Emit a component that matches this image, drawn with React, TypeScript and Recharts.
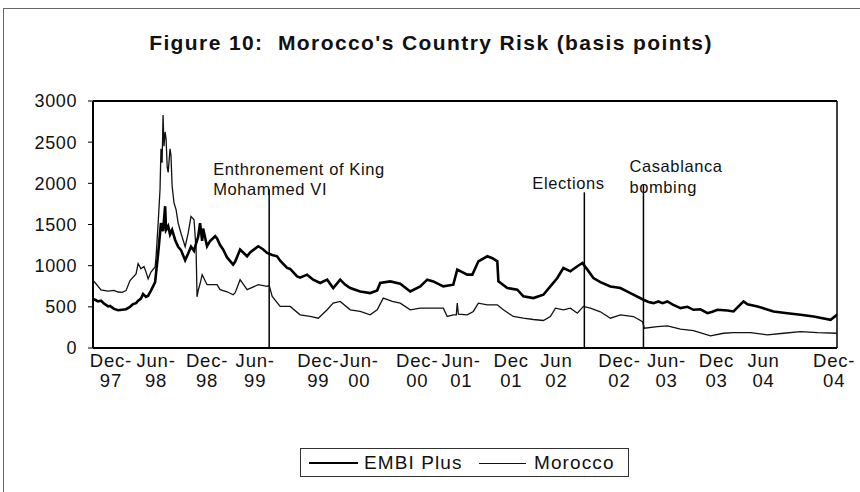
import React from 'react';
import { LineChart, Line, XAxis, YAxis, ReferenceLine } from 'recharts';

// x unit: weeks since early October 1997
const embiWeeks = [0,1.6,2.7,4.2,5.8,8.0,9.0,11.1,13.3,15.4,17.5,19.6,21.2,22.8,23.9,25.4,26.5,28.1,29.2,30.7,32.9,34.5,35.5,36.0,37.1,38.2,38.7,39.8,40.8,41.9,43.5,45.1,46.6,48.8,50.4,51.9,53.5,54.6,55.7,56.7,57.8,58.3,60.4,62.0,64.7,65.7,67.3,68.9,71.0,74.2,75.3,77.9,81.6,83.2,87.5,90.0,92.2,94.9,97.5,99.1,102.8,104.4,108.1,109.7,113.4,115.0,116.6,120.3,124.0,127.2,130.9,133.5,136.2,141.5,146.8,150.5,152.1,157.4,162.7,168.0,173.3,177.0,180.2,185.5,190.8,192.9,198.2,200.9,204.1,208.8,211.5,214.1,214.7,219.4,224.7,227.9,233.2,238.5,242.2,245.9,249.1,252.8,256.5,259.2,261.8,265.0,268.7,274.0,279.3,284.6,291.5,294.2,296.8,299.4,301.6,304.2,306.8,311.1,314.8,318.0,321.7,325.4,328.0,330.7,336.0,339.2,344.5,346.6,351.9,360.4,367.8,374.7,381.6,390.6,394];
const embiValues = [595,580,566,575,540,505,510,475,459,465,471,500,533,545,574,600,656,620,635,697,800,1150,1394,1517,1420,1722,1435,1480,1380,1435,1312,1230,1189,1066,1148,1230,1180,1271,1353,1517,1300,1450,1236,1300,1358,1330,1250,1196,1100,1013,1050,1196,1114,1160,1236,1200,1155,1130,1114,1060,972,960,870,854,891,860,830,790,830,728,830,770,728,687,667,700,789,809,780,687,749,830,809,749,769,952,891,891,1053,1114,1090,1053,809,728,708,627,606,647,749,850,972,931,993,1033,952,850,800,748,728,667,586,560,545,565,545,566,530,484,500,464,470,423,440,464,455,444,566,530,505,444,423,403,382,342,403];

const moroccoWeeks = [0,1.6,4.2,8.0,11.1,13.3,15.4,17.5,19.6,22.8,23.9,25.4,27.0,28.1,29.2,30.7,32.9,33.4,34.5,35.5,36.0,36.6,37.1,37.6,38.2,38.7,39.3,39.8,40.8,41.3,41.9,42.9,44.0,45.1,46.6,48.8,50.4,51.9,53.5,54.6,55.1,55.7,56.7,57.8,60.4,65.7,67.3,71.0,74.2,75.3,77.9,81.6,87.5,92.2,93.3,94.9,99.1,104.4,109.7,115.0,119.3,124.0,127.2,130.9,136.2,141.5,146.8,150.5,153.7,158.5,162.7,168.0,173.3,180.2,185.5,187.6,190.8,192.4,192.9,193.5,198.2,201.4,204.1,208.8,214.1,217.3,222.6,227.9,233.2,238.5,242.2,244.9,249.1,252.8,256.5,259.7,263.4,268.7,274.0,279.3,286.2,291.0,292.0,298.9,304.2,311.1,318.0,327.0,333.9,339.2,348.2,357.2,365.7,374.7,383.7,394];
const moroccoValues = [820,780,705,690,700,680,676,697,820,900,1025,963,990,922,840,922,984,1107,1517,1927,2419,2250,2830,2450,2624,2542,2200,2132,2419,2337,1968,1763,1681,1517,1394,1230,1394,1599,1558,1189,622,697,780,890,769,769,708,683,647,671,830,708,769,749,760,627,505,505,403,383,362,464,545,566,464,444,403,464,606,566,545,464,484,484,484,383,403,403,545,410,403,444,545,525,525,464,383,362,346,334,383,484,464,484,423,505,484,440,362,403,382,321,240,260,268,228,212,147,179,187,187,159,179,200,187,179];

const tickWeeks = [9.5,33.4,60.4,85.9,119.3,141.0,171.7,195.0,221.5,245.4,278.8,303.7,330.2,355.1,392.5];
const tickMonths = ['Dec-','Jun-','Dec-','Jun-','Dec-','Jun-','Dec-','Jun-','Dec','Jun','Dec-','Jun-','Dec','Jun','Dec-'];
const tickYears = ['97','98','98','99','99','00','00','01','01','02','02','03','03','04','04'];
const yTicks = [0,500,1000,1500,2000,2500,3000];

const eventWeeks = [93.3, 260.2, 291.5];
const eventTops = [1928, 1891, 1989];
const eventLabels = [['Enthronement of King', 'Mohammed VI'], ['Elections'], ['Casablanca', 'bombing']];
const seriesNames = ['EMBI Plus', 'Morocco'];

const embiData = embiWeeks.map((w, i) => ({ week: w, value: embiValues[i] }));
const moroccoData = moroccoWeeks.map((w, i) => ({ week: w, value: moroccoValues[i] }));

const FONT = '"Liberation Sans", Arial, sans-serif';

// label layout: offsets from line top (dx, dy of each line centre)
const eventLayout = [
  { dx: -56, dys: [-20, 0] },
  { dx: -52, dys: [-9] },
  { dx: -14, dys: [-18, 3] },
];

const nearestTick = (v: number) => {
  let best = 0;
  for (let k = 1; k < tickWeeks.length; k++) {
    if (Math.abs(tickWeeks[k] - v) < Math.abs(tickWeeks[best] - v)) best = k;
  }
  return best;
};

const XTick = (props: any) => {
  const { x, y, payload } = props;
  const i = nearestTick(Number(payload && payload.value));
  return (
    <text x={x} y={y} textAnchor="middle" fontFamily={FONT} fontSize={18.5} fill="#111" style={{ letterSpacing: 0.8 }}>
      <tspan x={x} y={y + 19}>{tickMonths[i]}</tspan>
      <tspan x={x} y={y + 39}>{tickYears[i]}</tspan>
    </text>
  );
};

const makeEventLabel = (idx: number) => (props: any) => {
  const vb = props.viewBox || {};
  const lx = vb.x;
  const ty = vb.y;
  const lay = eventLayout[idx];
  return (
    <g>
      {eventLabels[idx].map((t, k) => (
        <text key={k} x={lx + lay.dx} y={ty + lay.dys[k]} dominantBaseline="central" fontFamily={FONT} fontSize={16.5} fill="#111" style={{ letterSpacing: 0.6 }}>
          {t}
        </text>
      ))}
    </g>
  );
};

export default function App() {
  return (
    <div style={{ position: 'absolute', left: 0, top: 0, width: 860, height: 492, background: '#fff', overflow: 'hidden' }}>
      <div style={{ position: 'absolute', left: 3, top: 8, width: 860, height: 1, background: '#666' }} />
      <div style={{ position: 'absolute', left: 3, top: 8, width: 1, height: 492, background: '#666' }} />
      <div style={{ position: 'absolute', left: 0, top: 29, width: 862, textAlign: 'center', fontFamily: FONT, fontWeight: 'bold', fontSize: 21, letterSpacing: 1.4, color: '#111', lineHeight: '28px' }}>
        Figure 10:&nbsp; Morocco's Country Risk (basis points)
      </div>
      <div style={{ position: 'absolute', left: 0, top: 0 }}>
        <LineChart width={860} height={492} margin={{ top: 101, right: 23, bottom: 100, left: 0 }}>
          <XAxis
            type="number"
            dataKey="week"
            domain={[0, 394]}
            ticks={tickWeeks}
            interval={0}
            allowDataOverflow
            tick={XTick}
            tickLine={false}
            tickSize={0}
            tickMargin={0}
            height={44}
            axisLine={{ stroke: '#000', strokeWidth: 2 }}
          />
          <YAxis
            type="number"
            domain={[0, 3000]}
            ticks={yTicks}
            interval={0}
            width={93}
            tickSize={5}
            tickMargin={11}
            tickLine={{ stroke: '#000', strokeWidth: 1 }}
            axisLine={{ stroke: '#000', strokeWidth: 2 }}
            tick={{ fontFamily: FONT, fontSize: 18, fill: '#111', style: { letterSpacing: 0.6 } } as any}
          />
          <ReferenceLine y={3000} stroke="#000" strokeWidth={1.8} />
          <ReferenceLine x={394} stroke="#000" strokeWidth={1.5} />
          {eventWeeks.map((w, i) => (
            <ReferenceLine
              key={i}
              segment={[{ x: w, y: 0 }, { x: w, y: eventTops[i] }]}
              stroke="#000"
              strokeWidth={1.5}
              label={makeEventLabel(i)}
            />
          ))}
          <Line data={moroccoData} dataKey="value" name={seriesNames[1]} type="linear" stroke="#111" strokeWidth={1.3} dot={false} isAnimationActive={false} />
          <Line data={embiData} dataKey="value" name={seriesNames[0]} type="linear" stroke="#000" strokeWidth={2.6} dot={false} isAnimationActive={false} />
        </LineChart>
      </div>
      <div style={{ position: 'absolute', left: 300, top: 448, width: 327, height: 27, border: '1px solid #333', fontFamily: FONT, fontSize: 19, color: '#111' }}>
        <div style={{ position: 'absolute', left: 8, top: 13, width: 49, height: 2.4, background: '#000' }} />
        <div style={{ position: 'absolute', left: 63, top: 1, lineHeight: '25px', letterSpacing: 1.1 }}>{seriesNames[0]}</div>
        <div style={{ position: 'absolute', left: 178, top: 13.5, width: 47, height: 1.2, background: '#111' }} />
        <div style={{ position: 'absolute', left: 233, top: 1, lineHeight: '25px', letterSpacing: 1.1 }}>{seriesNames[1]}</div>
      </div>
    </div>
  );
}
